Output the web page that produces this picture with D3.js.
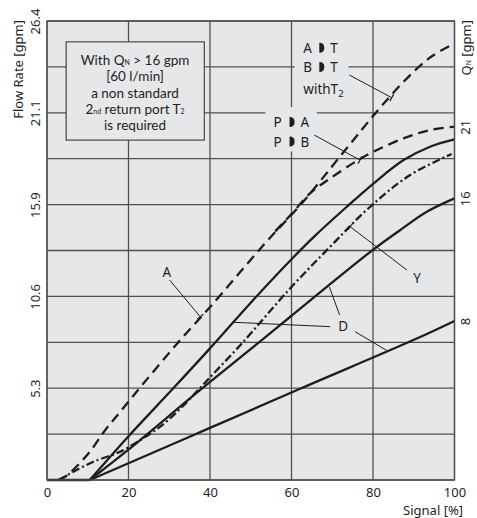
<!DOCTYPE html>
<html><head><meta charset="utf-8">
<script src="https://cdn.jsdelivr.net/npm/d3@7"></script>
<style>body{margin:0;background:#fff}svg{display:block}</style>
</head><body><svg id="c" width="477" height="518"></svg>
<script>
// ---- data ----
const xTicks = [0, 20, 40, 60, 80, 100];
const yGrid = [0, 2.64, 5.28, 7.92, 10.56, 13.2, 15.84, 18.48, 21.12, 23.76, 26.4];
const leftTicks = [5.28, 10.56, 15.84, 21.12, 26.4];
const leftTickLabels = ["5.3", "10.6", "15.9", "21.1", "26.4"];
const rightTicks = [20.32, 16.2, 9.15];
const rightTickLabels = ["21", "16", "8"];

const baseline = [[0, 0], [10.5, 0]];
const seriesAT = [[2.8, 0], [4.5, 0.2], [6.5, 0.6], [10.6, 1.65], [14.3, 2.88], [18, 3.93], [23.7, 5.56], [32.7, 8.05], [40.1, 9.97], [53.5, 13.61], [62.5, 15.91], [73.2, 18.98], [80.9, 21.18], [87.5, 22.9], [94, 24.3], [100, 25.1]];
const seriesPA = [[56, 14.3], [60, 15.3], [64.6, 16.5], [69.5, 17.35], [76, 18.35], [80.1, 18.88], [87.5, 19.65], [94, 20.13], [100, 20.32]];
const seriesY = [[2.8, 0], [3.7, 0.1], [6.5, 0.48], [11.4, 1.05], [18, 1.63], [22.9, 2.3], [27.8, 3.07], [32.7, 4.1], [37.6, 5.3], [42, 6.4], [48, 7.9], [59.7, 11.03], [69.5, 13.42], [78.9, 15.63], [89.1, 17.54], [99.3, 18.75]];
const seriesD1 = [[10.5, 0], [19.9, 2.49], [30.7, 5.2], [40.1, 7.6], [50, 10.2], [60, 12.7], [66, 14.1], [73.6, 15.72], [80.1, 17.05], [87.5, 18.4], [94, 19.17], [100, 19.59]];
const seriesD2 = [[10.5, 0], [19.9, 1.73], [37.6, 5.18], [52.7, 8.05], [59.7, 9.39], [79.5, 13.15], [86.7, 14.38], [93.2, 15.43], [100, 16.2]];
const series8 = [[10.5, 0], [36, 2.59], [62.1, 5.25], [89.9, 8.05], [100, 9.15]];

// ---- layout ----
const L = 47, R = 454.5, T = 21, B = 480;
const FONT = "'Noto Sans', 'Open Sans', sans-serif";
const BOXFONT = "Lato, 'Noto Sans', sans-serif";
const BG = "#e6e7e9", GRID = "#505050", INK = "#1e1e1e";
const FS = 13;

const svg = d3.select("#c");
const x = d3.scaleLinear().domain([0, 100]).range([L, R]);
const y = d3.scaleLinear().domain([0, 26.4]).range([B, T]);

svg.append("rect").attr("x", L).attr("y", T).attr("width", R - L).attr("height", B - T).attr("fill", BG);

// grid
const g = svg.append("g");
g.selectAll("line.v").data(xTicks).join("line")
  .attr("x1", d => x(d)).attr("x2", d => x(d)).attr("y1", T).attr("y2", B)
  .attr("stroke", GRID).attr("stroke-width", 1.3);
g.selectAll("line.h").data(yGrid).join("line")
  .attr("y1", d => y(d)).attr("y2", d => y(d)).attr("x1", L).attr("x2", R)
  .attr("stroke", GRID).attr("stroke-width", 1.3);

// label background patches (gaps in grid)
function patch(x0, y0, x1, y1) {
  svg.append("rect").attr("x", x(x0)).attr("y", y(y1)).attr("width", x(x1) - x(x0)).attr("height", y(y0) - y(y1)).attr("fill", BG);
}
patch(60.8, 21.9, 74.0, 25.5);
patch(53.6, 18.9, 66.2, 21.45);

// box
const box = svg.append("g");
box.append("rect").attr("x", x(4.7)).attr("y", y(25.2)).attr("width", x(38.6) - x(4.7)).attr("height", y(19.55) - y(25.2))
  .attr("fill", BG).attr("stroke", "#3a3a3a").attr("stroke-width", 1.1);
const bx = x(21.6);
const boxLines = [65, 81.3, 97.6, 113.9, 130.2];
function boxText(yy) {
  return box.append("text").attr("x", bx).attr("y", yy).attr("font-family", BOXFONT).attr("font-size", 13.5)
    .attr("fill", INK).attr("text-anchor", "middle");
}
let t1 = boxText(boxLines[0]);
t1.append("tspan").text("With Q");
t1.append("tspan").attr("font-size", 7).text("N");
t1.append("tspan").text(" > 16 gpm");
boxText(boxLines[1]).text("[60 l/min]");
boxText(boxLines[2]).text("a non standard");
let t4 = boxText(boxLines[3]);
t4.append("tspan").text("2");
t4.append("tspan").attr("font-size", 7).text("nd");
t4.append("tspan").text(" return port T");
t4.append("tspan").attr("font-size", 7).text("2");
boxText(boxLines[4]).text("is required");

// curves
const line = d3.line().x(d => x(d[0])).y(d => y(d[1])).curve(d3.curveCatmullRom.alpha(0.5));
function draw(data, dash) {
  svg.append("path").datum(data).attr("d", line).attr("fill", "none")
    .attr("stroke", INK).attr("stroke-width", 2.3).attr("stroke-dasharray", dash || null)
    .attr("stroke-linejoin", "round");
}
draw(baseline);
draw(series8);
draw(seriesD2);
draw(seriesD1);
draw(seriesY, "8,3,2,3");
draw(seriesAT, "10,6");
draw(seriesPA, "10,6");

// frame
svg.append("rect").attr("x", L).attr("y", T).attr("width", R - L).attr("height", B - T)
  .attr("fill", "none").attr("stroke", GRID).attr("stroke-width", 1.3);

// leaders
function leader(p0, p1, tick) {
  const a = [x(p0[0]), y(p0[1])], b = [x(p1[0]), y(p1[1])];
  svg.append("line").attr("x1", a[0]).attr("y1", a[1]).attr("x2", b[0]).attr("y2", b[1]).attr("stroke", INK).attr("stroke-width", 1);
  if (tick) {
    const dx = b[0] - a[0], dy = b[1] - a[1], len = Math.hypot(dx, dy);
    const nx = -dy / len * 4, ny = dx / len * 4;
    svg.append("line").attr("x1", b[0] - nx).attr("y1", b[1] - ny).attr("x2", b[0] + nx).attr("y2", b[1] + ny).attr("stroke", INK).attr("stroke-width", 1.2);
  }
}
leader([74.2, 23.29], [84.6, 21.99], true);
leader([65.6, 19.84], [76.8, 18.4], true);
leader([30.1, 11.5], [37.6, 9.39], true);
leader([88.3, 12.08], [74.4, 14.57], true);
leader([69.5, 8.82], [45.8, 9.07], false);
leader([71.8, 9.49], [69.3, 11.1], false);
leader([75.6, 8.53], [83.4, 7.45], false);

// annotation labels
function lbl(px, py, s, anchor) {
  svg.append("text").attr("x", px).attr("y", py).attr("font-family", FONT).attr("font-size", 13.5)
    .attr("fill", INK).attr("text-anchor", anchor || "middle").text(s);
}
lbl(x(29.4), y(11.98) + 5, "A");
lbl(x(72.7), y(8.87) + 5, "D");
lbl(x(90.8), y(11.6) + 5, "Y");

function arrowLabel(px, base, a, b) {
  lbl(px, base, a, "start");
  svg.append("path").attr("d", `M${px + 16},${base} L${px + 16},${base - 10} Q${px + 21},${base - 10} ${px + 21},${base - 5} Q${px + 21},${base} ${px + 16},${base} Z`).attr("fill", INK);
  lbl(px + 27, base, b, "start");
}
arrowLabel(x(62.9), 52.7, "A", "T");
arrowLabel(x(62.9), 72, "B", "T");
const wt = svg.append("text").attr("x", x(62.9)).attr("y", 94).attr("font-family", FONT).attr("font-size", 13.5).attr("fill", INK);
wt.append("tspan").text("withT");
wt.append("tspan").attr("font-size", 9.5).attr("dy", 3).text("2");
arrowLabel(x(55.6), 127, "P", "A");
arrowLabel(x(55.6), 146.5, "P", "B");

// axes
const ax = svg.append("g").attr("transform", `translate(0,${B})`)
  .call(d3.axisBottom(x).tickValues(xTicks).tickSize(0).tickPadding(8));
ax.select(".domain").remove();
ax.selectAll("text").attr("font-family", FONT).attr("font-size", FS).attr("fill", INK);

const ay = svg.append("g").attr("transform", `translate(${L},0)`)
  .call(d3.axisLeft(y).tickValues(leftTicks).tickFormat((d, i) => leftTickLabels[i]).tickSize(0));
ay.select(".domain").remove();
ay.selectAll("text").attr("font-family", FONT).attr("font-size", FS).attr("fill", INK)
  .attr("x", 0).attr("dy", "0.35em").attr("text-anchor", "middle").attr("transform", "translate(-12,0) rotate(-90)");

const ar = svg.append("g").attr("transform", `translate(${R},0)`)
  .call(d3.axisRight(y).tickValues(rightTicks).tickFormat((d, i) => rightTickLabels[i]).tickSize(0));
ar.select(".domain").remove();
ar.selectAll("text").attr("font-family", FONT).attr("font-size", FS).attr("fill", INK)
  .attr("x", 0).attr("dy", "0.35em").attr("text-anchor", "middle").attr("transform", "translate(11,0) rotate(-90)");

// axis titles
svg.append("text").attr("transform", `translate(18,${T - 1}) rotate(-90)`).attr("dy", "0.35em")
  .attr("text-anchor", "end").attr("font-family", FONT).attr("font-size", FS).attr("fill", INK).text("Flow Rate [gpm]");
const qn = svg.append("text").attr("transform", `translate(466,${T - 1}) rotate(-90)`).attr("dy", "0.35em")
  .attr("text-anchor", "end").attr("font-family", FONT).attr("font-size", FS).attr("fill", INK);
qn.append("tspan").text("Q");
qn.append("tspan").attr("font-size", 7).text("N");
qn.append("tspan").text(" [gpm]");
svg.append("text").attr("x", 463).attr("y", 515).attr("text-anchor", "end")
  .attr("font-family", FONT).attr("font-size", FS).attr("fill", INK).text("Signal [%]");
</script></body></html>
